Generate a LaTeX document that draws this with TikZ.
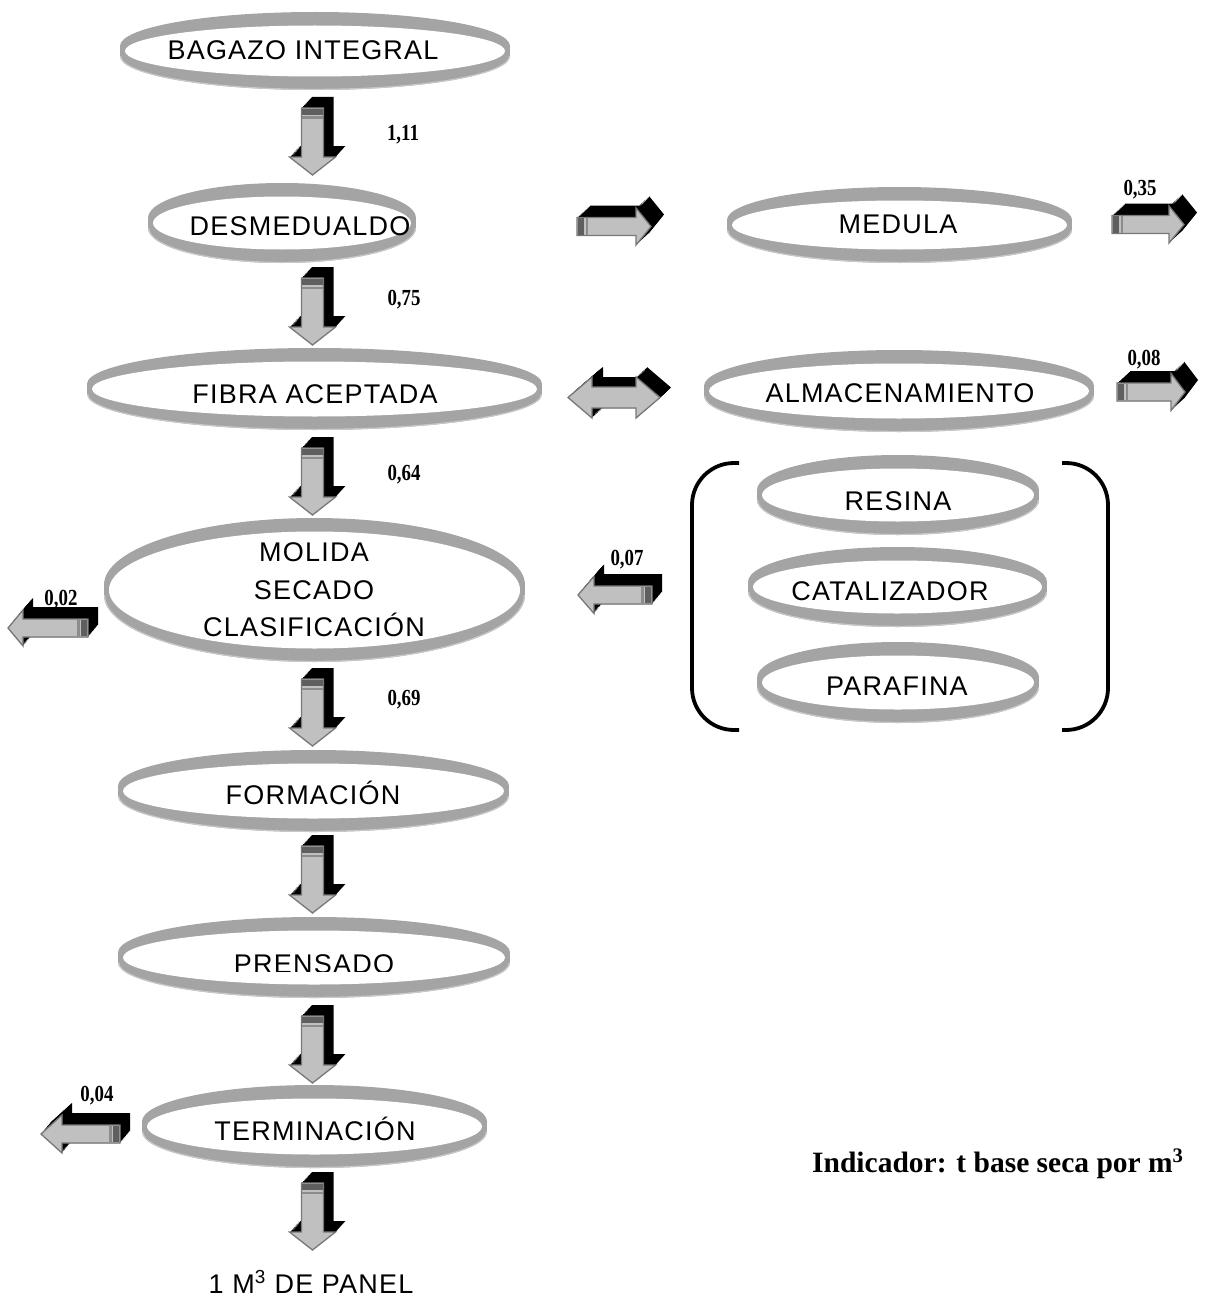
\documentclass[tikz,border=0pt]{standalone}
\usepackage{fontspec}
\setmainfont{Liberation Serif}
\newfontfamily\ringfont[LetterSpace=4.5]{Liberation Sans}
\newfontfamily\labfont[FakeStretch=0.82]{Liberation Serif}
\definecolor{ringgray}{RGB}{164,164,164}
\definecolor{ringlight}{RGB}{200,200,200}
\definecolor{arrowfill}{RGB}{192,192,192}
\definecolor{arrowedge}{RGB}{120,120,120}
\definecolor{stripeA}{RGB}{95,95,95}
\definecolor{stripeB}{RGB}{140,140,140}
\tikzset{
  rtext/.style={font=\ringfont\fontsize{27}{38}\selectfont, inner sep=0pt, anchor=base, align=center},
  vlabel/.style={font=\labfont\bfseries\fontsize{23}{26}\selectfont, inner sep=0pt, anchor=base},
  arrowface/.style={fill=arrowfill, draw=arrowedge, line width=1.3pt, line join=miter},
}
% ring: x1 x2 y1 y2 (image pixel coordinates)
\newcommand\RingShape[4]{%
  \pgfmathsetmacro\rcx{(#1+#2)/2}%
  \pgfmathsetmacro\rcy{(#3+#4)/2}%
  \pgfmathsetmacro\rrx{(#2-#1)/2}%
  \pgfmathsetmacro\rry{(#4-#3-10)/2}%
  \pgfmathsetmacro\rryi{(#4-#3-27)/2}%
  \pgfmathsetmacro\rrxi{\rrx-5}%
  \fill[ringgray] (\rcx,\rcy-5) ellipse [x radius=\rrx, y radius=\rry];
  \fill[ringgray] (\rcx,\rcy+5) ellipse [x radius=\rrx, y radius=\rry];
  \fill[ringgray] (\rcx-\rrx,\rcy-5) rectangle (\rcx+\rrx,\rcy+5);
  \draw[ringlight, line width=1.2pt] (\rcx-\rrx+0.6,\rcy+5) arc [start angle=180, end angle=0, x radius=\rrx-0.6, y radius=\rry-0.6];
  \fill[white] (\rcx,\rcy) ellipse [x radius=\rrxi, y radius=\rryi];
}
% block arrow: x y angle L a w W dx dy
\newcommand\BA[9]{%
  \foreach \k in {0,...,12}{%
    \begin{scope}[shift={(#1+\k*#8/12,#2-\k*#9/12)},rotate=#3]
      \fill[black] (0,-#6) -- (#5,-#6) -- (#5,-#7) -- (#4,0) -- (#5,#7) -- (#5,#6) -- (0,#6) -- cycle;
    \end{scope}}
  \begin{scope}[shift={(#1,#2)},rotate=#3]
    \path[arrowface] (0,-#6) -- (#5,-#6) -- (#5,-#7) -- (#4,0) -- (#5,#7) -- (#5,#6) -- (0,#6) -- cycle;
    \fill[stripeA] (0.7,-#6+0.7) rectangle (7,#6-0.7);
    \fill[stripeB] (8.5,-#6+0.7) rectangle (11,#6-0.7);
  \end{scope}}
\begin{document}
\begin{tikzpicture}[x=1pt,y=-1pt]
\useasboundingbox (0,0) rectangle (1211,1311);

% ---------- rings ----------
\RingShape{120}{510}{12}{90}
\RingShape{148}{416}{183}{263}
\RingShape{727}{1072}{187}{263}
\RingShape{87}{542}{348}{430}
\RingShape{704}{1094}{350}{432}
\RingShape{757}{1039}{455}{535}
\RingShape{748}{1047}{547}{627}
\RingShape{757}{1039}{642}{723}
\RingShape{104}{525}{518}{662}
\RingShape{118}{509}{750}{832}
\RingShape{118}{510}{917}{998}
\RingShape{142}{487}{1085}{1168}

% ---------- texts ----------
\node[rtext] (bagazo) at (303,60) {BAGAZO INTEGRAL};
\node[rtext] (desmed) at (300,235) {DESMEDUALDO};
\node[rtext] (medula) at (898,233) {MEDULA};
\node[rtext] (fibra) at (315,403) {FIBRA ACEPTADA};
\node[rtext] (almac) at (900,402) {ALMACENAMIENTO};
\node[rtext] (resina) at (898,510) {RESINA};
\node[rtext] (catal) at (890,600) {CATALIZADOR};
\node[rtext] (paraf) at (897,695) {PARAFINA};
\node[rtext] (molida) at (314,561) {MOLIDA};
\node[rtext] (secado) at (314,599) {SECADO};
\node[rtext] (clasif) at (314,636) {CLASIFICACIÓN};
\node[rtext] (formac) at (313,804) {FORMACIÓN};
\begin{scope}
  \clip (200,930) rectangle (430,971.5);
  \node[rtext] (prens) at (314,973) {PRENSADO};
\end{scope}
\node[rtext] (termin) at (315,1140) {TERMINACIÓN};
\node[rtext] (panel) at (311,1293) {1 M\textsuperscript{3} DE PANEL};
\node[font=\bfseries\fontsize{29.5}{34}\selectfont, inner sep=0pt, anchor=base west] (indic) at (812,1172) {Indicador: t base seca por m\textsuperscript{3}};

% ---------- value labels ----------
\node[vlabel] (l111) at (403,140) {1,11};
\node[vlabel] (l075) at (404,305) {0,75};
\node[vlabel] (l064) at (404,480) {0,64};
\node[vlabel] (l069) at (404,705) {0,69};
\node[vlabel] (l035) at (1140,195) {0,35};
\node[vlabel] (l008) at (1144,365) {0,08};
\node[vlabel] (l007) at (627,565) {0,07};
\node[vlabel] (l002) at (61,605) {0,02};
\node[vlabel] (l004) at (97,1101) {0,04};

% ---------- down arrows ----------
\foreach \ty in {108,278,448,679,846,1016,1183}{
  \BA{312.5}{\ty}{-90}{67}{49}{11}{23}{10}{11}
}
% ---------- right arrows ----------
\BA{577}{226.5}{0}{74}{59}{9}{18.5}{13}{12}
\BA{1112}{224.5}{0}{72}{57}{9}{18.5}{13}{12}
\BA{1117}{392}{0}{68}{54}{9}{18.5}{13}{12}
% ---------- left arrows ----------
\BA{652}{595}{180}{74}{58}{9}{18.5}{10}{12}
\BA{88}{628}{180}{80}{65}{9}{18}{10}{12}
\BA{120}{1134}{180}{79}{58}{9}{19}{10}{12}

% ---------- double arrow ----------
\foreach \k in {0,...,12}{
  \begin{scope}[shift={(568+\k*11/12,397.5-\k*10/12)}]
    \fill[black] (0,0) -- (24,-20.5) -- (24,-10.5) -- (68,-10.5) -- (68,-20.5) -- (92,0) -- (68,20.5) -- (68,10.5) -- (24,10.5) -- (24,20.5) -- cycle;
  \end{scope}}
\begin{scope}[shift={(568,397.5)}]
  \path[arrowface] (0,0) -- (24,-20.5) -- (24,-10.5) -- (68,-10.5) -- (68,-20.5) -- (92,0) -- (68,20.5) -- (68,10.5) -- (24,10.5) -- (24,20.5) -- cycle;
\end{scope}

% ---------- brackets ----------
\draw[line width=3.8pt, rounded corners=42pt] (739,463) -- (692,463) -- (692,730) -- (739,730);
\draw[line width=3.8pt, rounded corners=42pt] (1062,463) -- (1108,463) -- (1108,730) -- (1062,730);
\end{tikzpicture}
\end{document}
